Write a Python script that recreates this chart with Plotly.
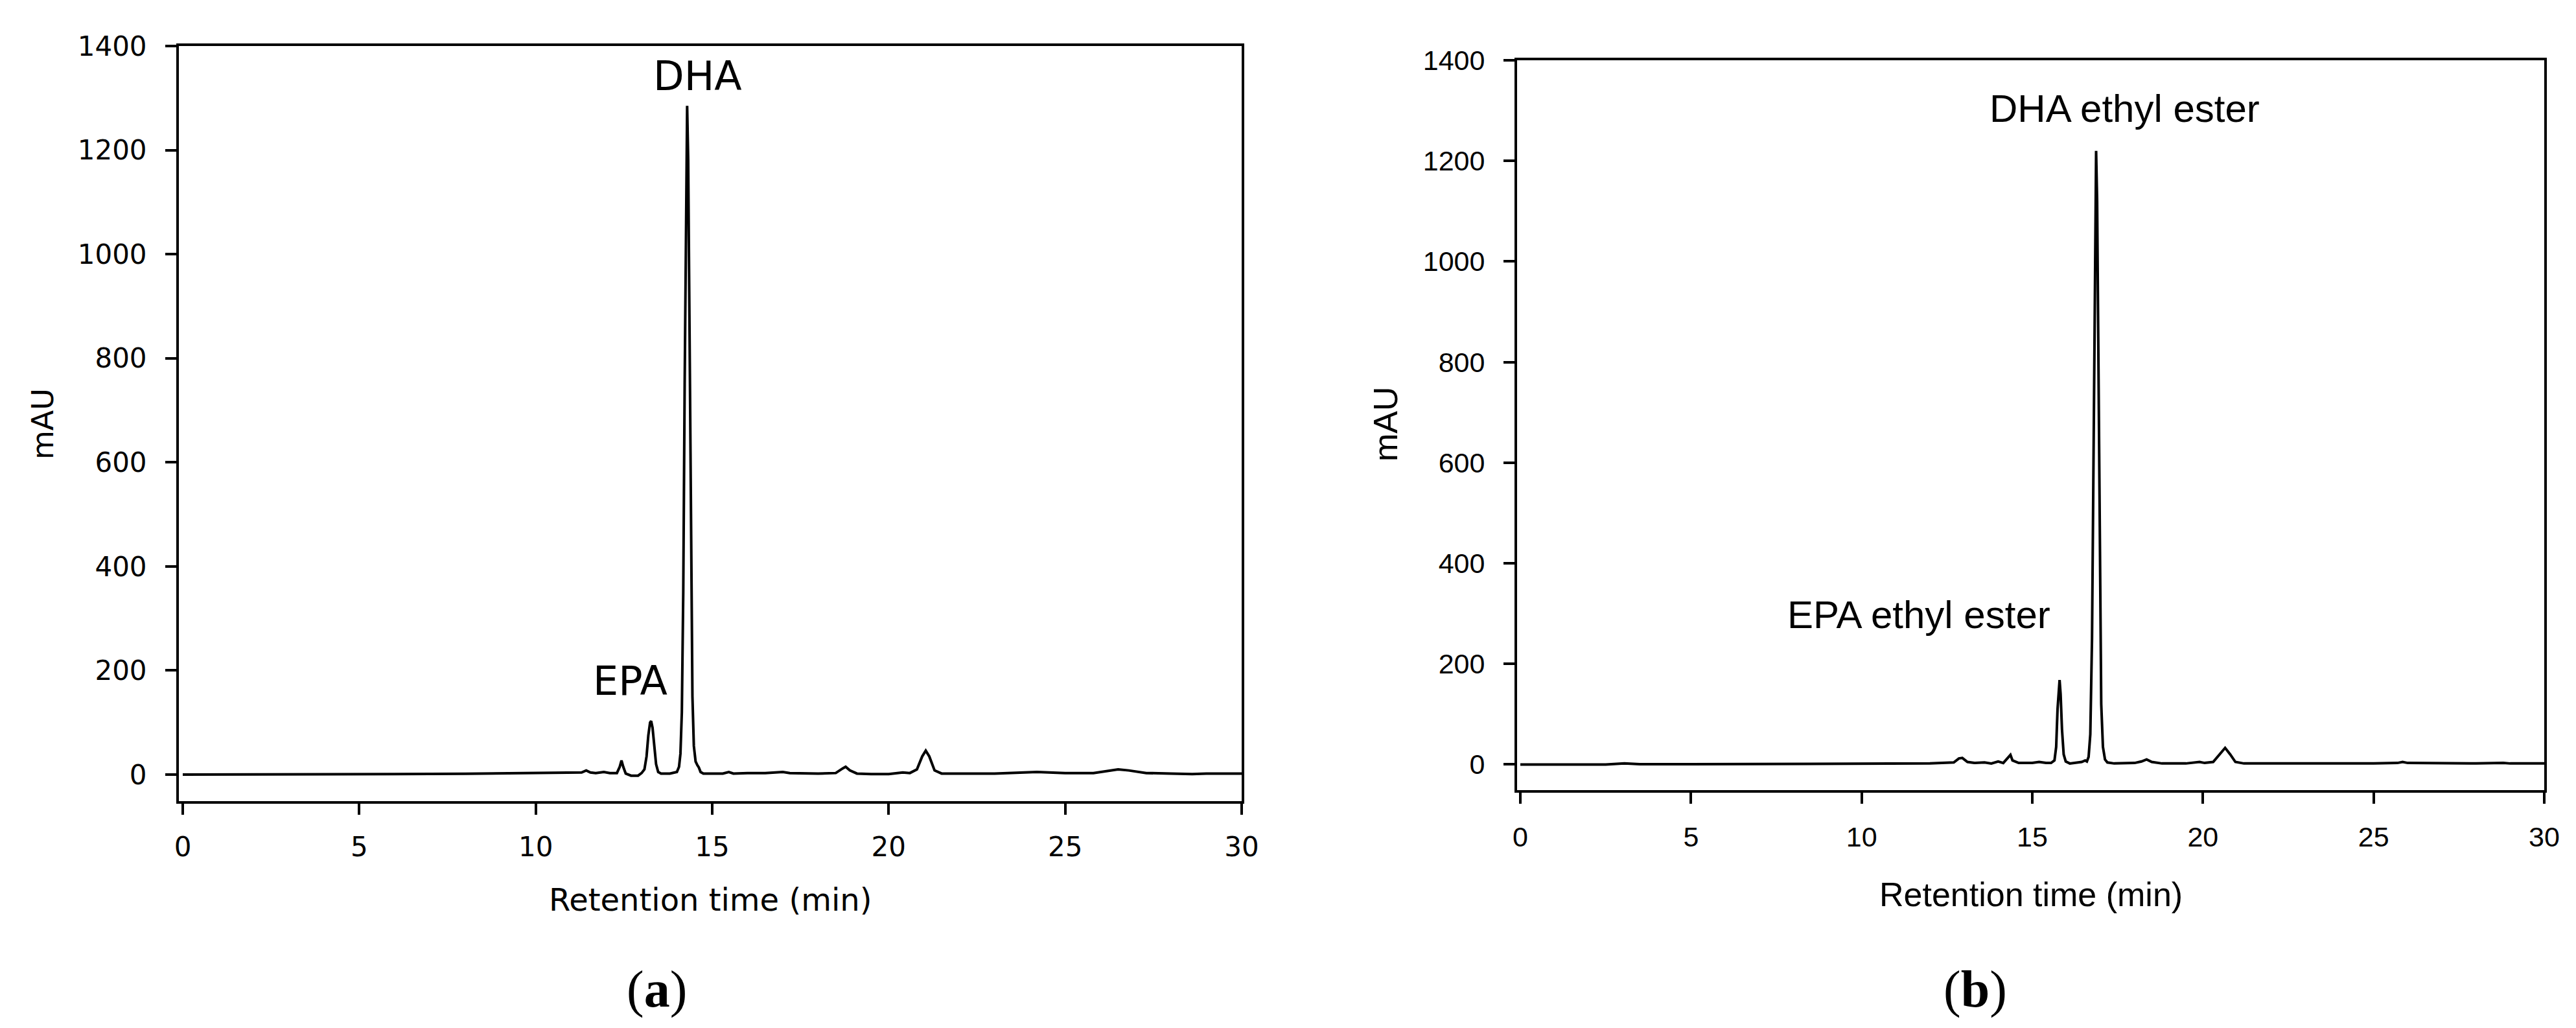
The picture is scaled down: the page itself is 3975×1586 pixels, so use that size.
import plotly.graph_objects as go

W, H = 3975, 1586

# ---- Data: panel (a) free fatty acids ----
time_a = [0, 2, 3, 4, 6, 8, 9, 10, 11, 11.3, 11.43, 11.55, 11.7, 11.93, 12.1, 12.3,
          12.38, 12.43, 12.48, 12.55, 12.7, 12.9,
          13.0, 13.08, 13.14, 13.19, 13.24, 13.27, 13.31, 13.36, 13.41, 13.47, 13.55, 13.8,
          14.0, 14.06, 14.1, 14.14, 14.18, 14.22, 14.26, 14.29, 14.32, 14.36, 14.4, 14.44,
          14.48, 14.53, 14.58, 14.62, 14.67, 14.75,
          15.0, 15.3, 15.47, 15.6, 16.0, 16.5, 17.0, 17.2, 18.0, 18.5, 18.7, 18.78, 18.9,
          19.1, 19.5, 20.0, 20.4, 20.6, 20.8, 20.95, 21.05, 21.15, 21.3, 21.5,
          22, 23, 24.2, 25, 25.8, 26.2, 26.5, 26.8, 27.3, 28, 28.6, 29, 30]
mau_a = [0, 0, 0.5, 1, 1, 1.5, 2, 2.5, 3, 4, 8, 4, 3, 5, 3, 3,
         15, 27, 15, 2, -2, -2,
         3, 10, 35, 75, 100, 103, 90, 55, 20, 5, 2, 2,
         5, 15, 40, 120, 350, 750, 1150, 1285, 1180, 800, 400, 150,
         55, 25, 18, 14, 5, 2,
         2, 2, 5, 2, 3, 3, 5, 3, 2, 3, 12, 15, 8,
         2, 1, 1, 4, 3, 10, 35, 46, 35, 8, 2,
         2, 2, 5, 3, 3, 7, 10, 8, 3, 2, 1, 2, 2]

# ---- Data: panel (b) ethyl esters ----
time_b = [0, 2.5, 3.05, 3.5, 5, 7.9, 9, 10, 11, 12, 12.7, 12.85, 12.95, 13.1, 13.3, 13.6,
          13.8, 14.0, 14.15, 14.3, 14.36, 14.42, 14.6, 15.0, 15.2, 15.4,
          15.55, 15.65, 15.7, 15.74, 15.78, 15.8, 15.83, 15.87, 15.92, 15.98, 16.1, 16.3,
          16.45, 16.55, 16.6, 16.65, 16.7, 16.75, 16.8, 16.84, 16.87, 16.9, 16.94, 16.98,
          17.02, 17.07, 17.13, 17.2, 17.4, 18.0, 18.2, 18.35, 18.5, 18.8, 19.5, 19.9, 20.05,
          20.3, 20.5, 20.65, 20.8, 20.95, 21.2, 22, 23, 24, 25, 25.7, 25.85, 26.0, 27, 28,
          28.8, 29, 30]
mau_b = [0, 0, 2, 0.5, 0.5, 1, 1, 1.5, 1.5, 2, 4, 12, 13, 5, 3, 4,
         2, 6, 3, 14, 19, 8, 3, 3, 5, 3,
         3, 8, 35, 110, 160, 168, 140, 70, 20, 6, 2, 3,
         5, 8, 6, 15, 60, 250, 700, 1100, 1220, 1120, 750, 350,
         120, 35, 10, 4, 2, 3, 6, 10, 5, 2, 2, 5, 3,
         5, 22, 33, 20, 5, 2, 2, 1.5, 2, 2, 3, 5, 3, 2, 2,
         3, 2, 2]

x_ticks = [0, 5, 10, 15, 20, 25, 30]
y_ticks = [0, 200, 400, 600, 800, 1000, 1200, 1400]

FONT_A = "DejaVu Sans"
FONT_B = "Liberation Sans, Arial"

fig = go.Figure()
fig.add_trace(go.Scatter(x=time_a, y=mau_a, mode="lines",
                         line=dict(color="black", width=4), xaxis="x", yaxis="y",
                         showlegend=False, hoverinfo="skip"))
fig.add_trace(go.Scatter(x=time_b, y=mau_b, mode="lines",
                         line=dict(color="black", width=4), xaxis="x2", yaxis="y2",
                         showlegend=False, hoverinfo="skip"))

def px_x(p):
    return p / W

def px_y(p):
    return (H - p) / H

common_axis = dict(showline=True, linecolor="black", linewidth=4, mirror=True,
                   ticks="outside", ticklen=17, tickwidth=4, tickcolor="black",
                   showgrid=False, zeroline=False, automargin=False)

fig.update_layout(
    template="none",
    width=W, height=H,
    margin=dict(l=0, r=0, t=0, b=0, pad=0),
    paper_bgcolor="white", plot_bgcolor="white",
    xaxis=dict(domain=[px_x(268), px_x(1908)], range=[-0.11, 30], tickvals=x_ticks,
               anchor="y", tickfont=dict(family=FONT_A, size=42, color="black"),
               ticklabelstandoff=14, **common_axis),
    yaxis=dict(domain=[px_y(1228), px_y(63)], range=[-51, 1400], tickvals=y_ticks,
               anchor="x", tickfont=dict(family=FONT_A, size=42, color="black"),
               ticklabelstandoff=20, **common_axis),
    xaxis2=dict(domain=[px_x(2333), px_x(3918)], range=[-0.095, 30], tickvals=x_ticks,
                anchor="y2", tickfont=dict(family=FONT_B, size=43, color="black"),
                ticklabelstandoff=14, **common_axis),
    yaxis2=dict(domain=[px_y(1211), px_y(85)], range=[-51, 1400], tickvals=y_ticks,
                anchor="x2", tickfont=dict(family=FONT_B, size=43, color="black"),
                ticklabelstandoff=20, **common_axis),
)

annotations = [
    # peak labels
    dict(x=14.58, y=1342, xref="x", yref="y", text="DHA",
         font=dict(family=FONT_A, size=62, color="black")),
    dict(x=12.67, y=180, xref="x", yref="y", text="EPA",
         font=dict(family=FONT_A, size=62, color="black")),
    dict(x=17.7, y=1304, xref="x2", yref="y2", text="DHA ethyl ester",
         font=dict(family=FONT_B, size=60, color="black")),
    dict(x=11.67, y=298, xref="x2", yref="y2", text="EPA ethyl ester",
         font=dict(family=FONT_B, size=60, color="black")),
    # axis titles
    dict(x=px_x(1088), y=px_y(1380), xref="paper", yref="paper", text="Retention time (min)",
         font=dict(family=FONT_A, size=48, color="black")),
    dict(x=px_x(3126), y=px_y(1372), xref="paper", yref="paper", text="Retention time (min)",
         font=dict(family=FONT_B, size=52, color="black")),
    dict(x=px_x(58), y=px_y(646), xref="paper", yref="paper", text="mAU", textangle=-90,
         font=dict(family=FONT_A, size=46, color="black")),
    dict(x=px_x(2130), y=px_y(646), xref="paper", yref="paper", text="mAU", textangle=-90,
         font=dict(family=FONT_B, size=52, color="black")),
    # panel labels
    dict(x=px_x(1005), y=px_y(1518), xref="paper", yref="paper", text="(<b>a</b>)",
         font=dict(family="Liberation Serif, Times New Roman", size=80, color="black")),
    dict(x=px_x(3040), y=px_y(1518), xref="paper", yref="paper", text="(<b>b</b>)",
         font=dict(family="Liberation Serif, Times New Roman", size=80, color="black")),
]
for a in annotations:
    a.update(showarrow=False, xanchor="center", yanchor="middle")
fig.update_layout(annotations=annotations)

fig.write_html("out.html")
